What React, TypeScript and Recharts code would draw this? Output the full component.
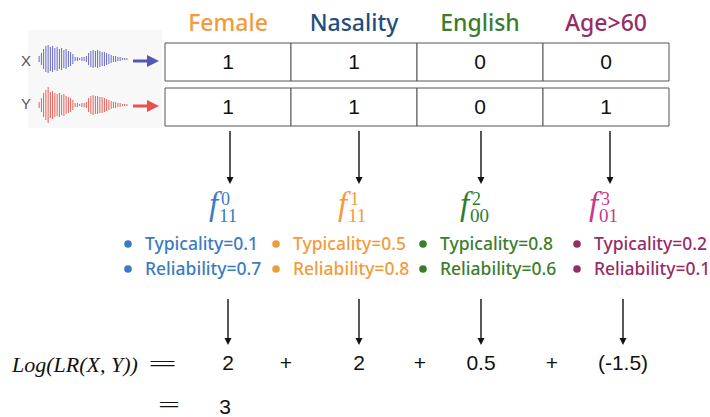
import React from "react";
import { ComposedChart, BarChart, Bar, Scatter, XAxis, YAxis, LabelList } from "recharts";

const FEATURES = ["Female", "Nasality", "English", "Age>60"];
const X_BITS = [1, 1, 0, 0];
const Y_BITS = [1, 1, 0, 1];
const TYPICALITY = [0.1, 0.5, 0.8, 0.2];
const RELIABILITY = [0.7, 0.8, 0.6, 0.1];
const LLR = [2, 2, 0.5, -1.5];

// rough envelope of the two speech clips
const X_WAVE = [3, 6, 10, 13, 14, 12, 13, 11, 12, 10, 11, 9, 10, 8, 7, 5, 2, 2, 1, 2, 2, 3, 6, 8, 9, 8, 9, 8, 7, 7, 6, 5, 4, 3, 3, 2, 2, 1, 1, 1];
const Y_WAVE = [3, 7, 12, 15, 18, 13, 14, 12, 11, 12, 10, 11, 9, 8, 7, 5, 2, 2, 1, 2, 2, 3, 7, 9, 10, 9, 9, 8, 8, 7, 6, 5, 4, 3, 3, 2, 2, 1, 1, 1];

const HEADER_COLORS = ["#F39B3B", "#1F4E7E", "#3B7D2D", "#952E67"];
const F_COLORS = ["#3A7CC2", "#F39B3B", "#2F7D30", "#C9388A"];
const LIST_COLORS = ["#3A7CC2", "#F39B3B", "#3B7D2D", "#952E67"];

const SANS = "'Noto Sans', Lato, sans-serif";
const HELV = "'Liberation Sans', Arial, sans-serif";
const SERIF = "'Liberation Serif', 'DejaVu Serif', serif";

// vertical layout (y axis runs 0..417 top to bottom)
const L = {
  header: 31,
  rowX: [43, 81],
  rowY: [88, 126],
  arrow1: [131, 184],
  fBase: 215,
  typ: 250,
  rel: 275,
  arrow2: [299, 345],
  value: 370,
  total: 414,
};
const ARROW_DX = [2, 5, 1, 4];
const VALUE_DX = [0, 5, 1, 17];
const LIST_DX = [-100, -78, -57, -29];
const PLUS_DX = [58, 66, 72];

const rows = FEATURES.map((feature, i) => ({
  feature,
  i,
  x: X_BITS[i],
  y: Y_BITS[i],
  sub: `${X_BITS[i]}${Y_BITS[i]}`,
  typ: TYPICALITY[i],
  rel: RELIABILITY[i],
  llr: LLR[i],
}));
const total = LLR.reduce((a, b) => a + b, 0);
const fmt = (v: number) => (v < 0 ? `(${v})` : `${v}`);

function DownArrow({ x, y1, y2 }: { x: number; y1: number; y2: number }) {
  return (
    <g>
      <line x1={x} y1={y1} x2={x} y2={y2 - 5} stroke="#111" strokeWidth={1.4} />
      <path d={`M${x - 3.5},${y2 - 7} L${x + 3.5},${y2 - 7} L${x},${y2} Z`} fill="#111" />
    </g>
  );
}

const HeaderShape = (p: any) => (
  <text
    x={p.cx}
    y={p.cy}
    textAnchor="middle"
    fill={HEADER_COLORS[p.payload.i]}
    fontFamily={SANS}
    fontWeight={500}
    fontSize={23}
  >
    {p.payload.feature}
  </text>
);

const Arrow1Shape = (p: any) => (
  <DownArrow x={p.cx + ARROW_DX[p.payload.i]} y1={p.cy} y2={p.cy + L.arrow1[1] - L.arrow1[0]} />
);

const Arrow2Shape = (p: any) => (
  <DownArrow x={p.cx + VALUE_DX[p.payload.i]} y1={p.cy} y2={p.cy + L.arrow2[1] - L.arrow2[0]} />
);

const FShape = (p: any) => {
  const x = p.cx + ARROW_DX[p.payload.i];
  return (
    <g fill={F_COLORS[p.payload.i]} fontFamily={SERIF}>
      <text x={x - 21} y={p.cy} fontStyle="italic" fontSize={33}>
        f
      </text>
      <text x={x - 9} y={p.cy - 10} fontSize={18}>
        {p.payload.i}
      </text>
      <text x={x - 11} y={p.cy + 7} fontSize={19}>
        {p.payload.sub}
      </text>
    </g>
  );
};

const ListShape = (p: any) => {
  const x0 = p.cx + LIST_DX[p.payload.i];
  const c = LIST_COLORS[p.payload.i];
  const gap = L.rel - L.typ;
  return (
    <g fill={c} fontFamily={SANS} fontSize={17.5} fontWeight={500}>
      <circle cx={x0} cy={p.cy - 6} r={3.8} />
      <text x={x0 + 17} y={p.cy}>{`Typicality=${p.payload.typ}`}</text>
      <circle cx={x0} cy={p.cy - 6 + gap} r={3.8} />
      <text x={x0 + 17} y={p.cy + gap}>{`Reliability=${p.payload.rel}`}</text>
    </g>
  );
};

const ValueShape = (p: any) => {
  const i = p.payload.i;
  const x = p.cx + VALUE_DX[i];
  const gap = L.total - L.value;
  return (
    <g fill="#111" fontFamily={HELV} fontSize={21}>
      <text x={x} y={p.cy} textAnchor="middle">
        {fmt(p.payload.llr)}
      </text>
      {i < 3 && (
        <text x={p.cx + PLUS_DX[i]} y={p.cy} textAnchor="middle">
          +
        </text>
      )}
      {i === 0 && (
        <g>
          <text x={p.cx - 216} y={p.cy + 2} fontFamily={SERIF} fontStyle="italic" fontSize={22}>
            Log(LR(X, Y))
          </text>
          <text x={p.cx - 80} y={p.cy + 1} fontFamily={SERIF} fontSize={20} textLength={29} lengthAdjust="spacingAndGlyphs">
            =
          </text>
          <text x={p.cx - 70} y={p.cy + gap - 2} fontFamily={SERIF} fontSize={20} textLength={22} lengthAdjust="spacingAndGlyphs">
            =
          </text>
          <text x={x - 3} y={p.cy + gap} textAnchor="middle">
            {total}
          </text>
        </g>
      )}
    </g>
  );
};

function Wave({ data, color, height, amp }: { data: number[]; color: string; height: number; amp: number }) {
  const d = data.map((a, i) => ({ i, a }));
  return (
    <BarChart width={90} height={height} data={d} margin={{ top: 0, right: 0, bottom: 0, left: 0 }} barCategoryGap="30%">
      <XAxis dataKey="i" hide />
      <YAxis type="number" domain={[-amp, amp]} hide />
      <Bar dataKey={(e: any) => [-e.a, e.a]} fill={color} isAnimationActive={false} />
    </BarChart>
  );
}

function SideArrow({ y, color }: { y: number; color: string }) {
  return (
    <g>
      <line x1={133} y1={y} x2={149} y2={y} stroke={color} strokeWidth={3} />
      <path d={`M147,${y - 6} L159,${y} L147,${y + 6} Z`} fill={color} />
    </g>
  );
}

export default function App() {
  return (
    <div style={{ position: "fixed", left: 0, top: 0, width: 710, height: 417, background: "#fff", overflow: "hidden" }}>
      <div style={{ position: "absolute", left: 28, top: 30, width: 134, height: 98, background: "#f8f8f8" }} />
      <div style={{ position: "absolute", left: 38, top: 43 }}>
        <Wave data={X_WAVE} color="#5659C4" height={32} amp={16} />
      </div>
      <div style={{ position: "absolute", left: 38, top: 85 }}>
        <Wave data={Y_WAVE} color="#E5504A" height={40} amp={20} />
      </div>
      <svg style={{ position: "absolute", left: 0, top: 0 }} width={165} height={130}>
        <text x={26} y={66} textAnchor="middle" fill="#555" fontFamily={HELV} fontSize={15}>
          X
        </text>
        <text x={26} y={109} textAnchor="middle" fill="#555" fontFamily={HELV} fontSize={15}>
          Y
        </text>
        <SideArrow y={61} color="#5557B8" />
        <SideArrow y={106} color="#E8524A" />
      </svg>
      <div style={{ position: "absolute", left: 0, top: 0 }}>
        <ComposedChart
          width={710}
          height={417}
          data={rows}
          margin={{ top: 0, right: 41, bottom: 0, left: 165 }}
          barCategoryGap={0}
          barGap={0}
        >
          <XAxis dataKey="feature" hide />
          <XAxis xAxisId="rowX" dataKey="feature" hide />
          <XAxis xAxisId="rowY" dataKey="feature" hide />
          <YAxis type="number" domain={[0, 417]} reversed hide />
          <Bar xAxisId="rowX" dataKey={() => L.rowX} fill="#fff" stroke="#555" isAnimationActive={false}>
            <LabelList dataKey="x" position="center" fill="#111" fontSize={21} fontFamily={HELV} />
          </Bar>
          <Bar xAxisId="rowY" dataKey={() => L.rowY} fill="#fff" stroke="#555" isAnimationActive={false}>
            <LabelList dataKey="y" position="center" fill="#111" fontSize={21} fontFamily={HELV} />
          </Bar>
          <Scatter dataKey={() => L.header} shape={HeaderShape} isAnimationActive={false} />
          <Scatter dataKey={() => L.arrow1[0]} shape={Arrow1Shape} isAnimationActive={false} />
          <Scatter dataKey={() => L.fBase} shape={FShape} isAnimationActive={false} />
          <Scatter dataKey={() => L.typ} shape={ListShape} isAnimationActive={false} />
          <Scatter dataKey={() => L.arrow2[0]} shape={Arrow2Shape} isAnimationActive={false} />
          <Scatter dataKey={() => L.value} shape={ValueShape} isAnimationActive={false} />
        </ComposedChart>
      </div>
    </div>
  );
}
